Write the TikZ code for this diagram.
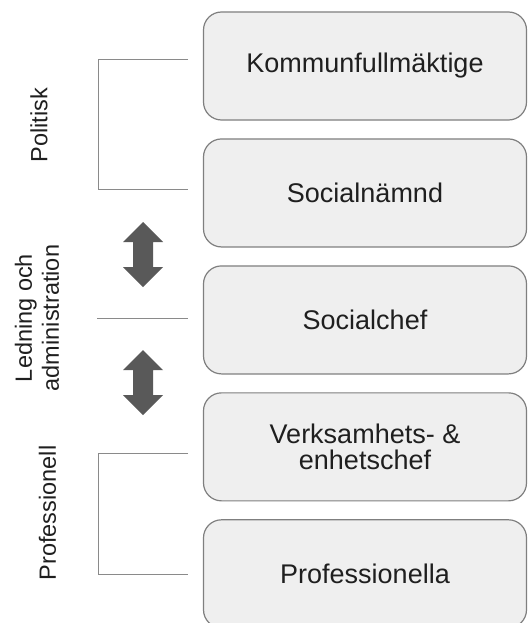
\documentclass[tikz,border=0pt]{standalone}
\usepackage{fontspec}
\setmainfont{Liberation Sans}
\usepackage{tikz}
\usetikzlibrary{positioning}
\definecolor{boxfill}{HTML}{EFEFEF}
\definecolor{boxline}{HTML}{7F7F7F}
\definecolor{bracketgrey}{HTML}{8A8A8A}
\definecolor{arrowgrey}{HTML}{595959}
\definecolor{textdark}{HTML}{1F1F1F}

\begin{document}
\begin{tikzpicture}[x=1pt, y=-1pt,
    orgbox/.style={draw=boxline, line width=1.2pt, fill=boxfill, rounded corners=18pt,
        minimum width=323pt, minimum height=108pt, align=center, text=textdark,
        font=\fontsize{27}{26.5}\selectfont},
    sidelabel/.style={rotate=90, align=center, text=textdark, inner sep=0pt,
        font=\fontsize{23.5}{27}\selectfont},
    bracketline/.style={draw=bracketgrey, line width=1pt},
    dblarrow/.pic={\fill[arrowgrey] (0,-32.5) -- (20,-12.5) -- (10,-12.5) -- (10,12.5)
        -- (20,12.5) -- (0,32.5) -- (-20,12.5) -- (-10,12.5) -- (-10,-12.5)
        -- (-20,-12.5) -- cycle;}]
\useasboundingbox (0,0) rectangle (528,623);
% boxes
\node[orgbox] (kf) at (365,66) {Kommunfullmäktige};
\node[orgbox, below=17.75pt of kf] (sn) {Socialnämnd};
\node[orgbox, below=17.75pt of sn] (sc) {Socialchef};
\node[orgbox, below=17.75pt of sc] (ve) {Verksamhets- \&\\enhetschef};
\node[orgbox, below=17.75pt of ve] (pr) {Professionella};
% side labels
\node[sidelabel] (politisk) at (39,125) {Politisk};
\node[sidelabel] (ledning) at (37,318) {Ledning och\\administration};
\node[sidelabel] (profl) at (47.5,513) {Professionell};
% brackets
\coordinate (polTop) at (188,60);
\coordinate (polBot) at (188,189);
\coordinate (midL) at (97,318);
\coordinate (midR) at (188,318);
\coordinate (proTop) at (188,453);
\coordinate (proBot) at (188,574);
\draw[bracketline] (polTop) -- ++(-90,0) |- (polBot);
\draw[bracketline] (midL) -- (midR);
\draw[bracketline] (proTop) -- ++(-90,0) |- (proBot);
% arrows
\pic (arrUp) at (143,254.5) {dblarrow};
\pic (arrDown) at (143,382.5) {dblarrow};
\end{tikzpicture}
\end{document}
